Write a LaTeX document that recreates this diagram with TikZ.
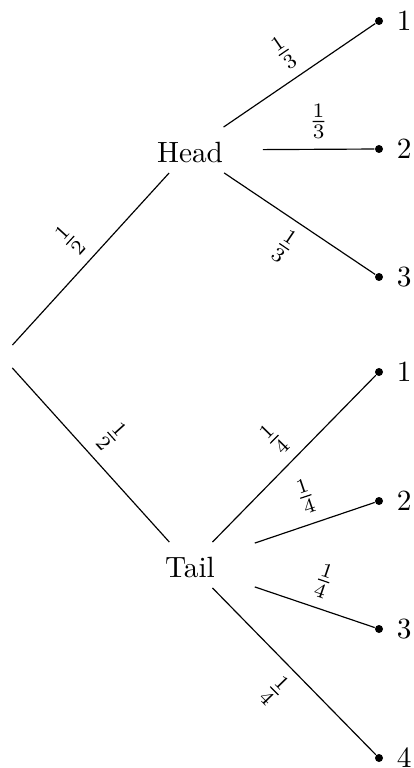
\documentclass[tikz,border=0pt]{standalone}
\begin{document}
\begin{tikzpicture}[x=0.3413pt,y=-0.3413pt,
  branch/.style={inner xsep=13.45pt, inner ysep=3.33pt, text height=8.6pt, text depth=0pt},
  leaf/.style={circle, fill, inner sep=0pt, minimum size=2.73pt, label={[label distance=1pt]right:#1}},
  lab/.style={sloped, midway},
  ]
\useasboundingbox (0,0) rectangle (413,768);
\node[inner sep=3.7pt] (root) at (2,356.5) {};
\node[branch] (head) at (190,150) {Head};
\node[branch] (tail) at (190,565) {Tail};
\node[leaf=1] (h1) at (379,21) {};
\node[leaf=2] (h2) at (379,149) {};
\node[leaf=3] (h3) at (379,277) {};
\node[leaf=1] (t1) at (379,372) {};
\node[leaf=2] (t2) at (379,501) {};
\node[leaf=3] (t3) at (379,629) {};
\node[leaf=4] (t4) at (379,758) {};
\draw (root) -- node[lab, above] {$\frac{1}{2}$} (head);
\draw (root) -- node[lab, above] {$\frac{1}{2}$} (tail);
\draw (head) -- node[lab, above] {$\frac{1}{3}$} (h1);
\draw (head) -- node[lab, above] {$\frac{1}{3}$} (h2);
\draw (head) -- node[lab, below] {$\frac{1}{3}$} (h3);
\draw (tail) -- node[lab, above] {$\frac{1}{4}$} (t1);
\draw (tail) -- node[lab, above] {$\frac{1}{4}$} (t2);
\draw (tail) -- node[lab, above] {$\frac{1}{4}$} (t3);
\draw (tail) -- node[lab, below] {$\frac{1}{4}$} (t4);
\end{tikzpicture}
\end{document}
